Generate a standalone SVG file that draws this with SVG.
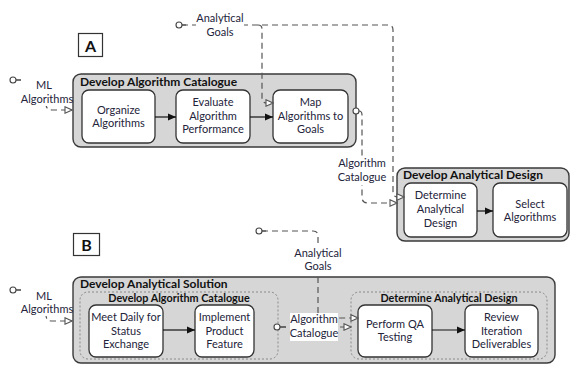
<svg xmlns="http://www.w3.org/2000/svg" width="572" height="365" viewBox="0 0 572 365">
  <style>
    text { font-family: Lato, "Open Sans", "Liberation Sans", sans-serif; font-size: 11px; fill: #23233a; }
    .t { text-anchor: middle; }
    .title { font-weight: bold; fill: #111; font-size: 12px; }
    .sub { font-weight: bold; fill: #111; font-size: 10.8px; text-anchor: middle; }
    .tag { font-weight: bold; fill: #111; font-size: 16px; text-anchor: middle; }
    .group { fill: #d6d6d6; stroke: #3a3a3a; stroke-width: 1.4; }
    .lane { fill: #d6d6d6; stroke: #8a8a8a; stroke-width: 1; stroke-dasharray: 2 2; }
    .task { fill: #fff; stroke: #333; stroke-width: 1.3; }
    .tagbox { fill: #fff; stroke: #333; stroke-width: 1.2; }
    .seq { fill: none; stroke: #111; stroke-width: 1.2; marker-end: url(#solid); }
    .data { fill: none; stroke: #555; stroke-width: 1.2; stroke-dasharray: 6 4; marker-end: url(#open); }
    .start { fill: #fff; stroke: #444; stroke-width: 1.1; }
    .stub { stroke: #444; stroke-width: 1.1; }
    .lbg { fill: #fff; }
  </style>
  <defs>
    <marker id="solid" viewBox="0 0 8 8" refX="8" refY="4" markerWidth="8" markerHeight="8" markerUnits="userSpaceOnUse" orient="auto">
      <path d="M0,0.5 L8,4 L0,7.5 Z" fill="#111"/>
    </marker>
    <marker id="open" viewBox="0 0 9 8" refX="8" refY="4" markerWidth="9" markerHeight="8" markerUnits="userSpaceOnUse" orient="auto">
      <path d="M1,0.8 L8,4 L1,7.2 Z" fill="#fff" stroke="#555" stroke-width="1.1" stroke-dasharray="none"/>
    </marker>
  </defs>

  <!-- Part A -->
  <g id="tag-a">
    <rect class="tagbox" x="78.5" y="33.5" width="24" height="23"/>
    <text class="tag" x="90.5" y="51.5">A</text>
  </g>

  <g id="develop-algorithm-catalogue">
    <rect class="group" x="73" y="74" width="283" height="73" rx="8"/>
    <text class="title" x="80" y="85.5">Develop Algorithm Catalogue</text>
  </g>
  <g id="organize-algorithms">
    <rect class="task" x="82" y="90" width="73" height="53" rx="7"/>
    <text class="t" x="118.5" y="113.5">Organize</text>
    <text class="t" x="118.5" y="127">Algorithms</text>
  </g>
  <g id="evaluate-performance">
    <rect class="task" x="176" y="90" width="74" height="53" rx="7"/>
    <text class="t" x="213" y="106">Evaluate</text>
    <text class="t" x="213" y="119.5">Algorithm</text>
    <text class="t" x="213" y="133">Performance</text>
  </g>
  <g id="map-algorithms">
    <rect class="task" x="273" y="90" width="75" height="53" rx="7"/>
    <text class="t" x="310.5" y="106">Map</text>
    <text class="t" x="310.5" y="119.5">Algorithms to</text>
    <text class="t" x="310.5" y="133">Goals</text>
  </g>

  <g id="develop-analytical-design">
    <rect class="group" x="397" y="168" width="172" height="73" rx="8"/>
    <text class="title" x="403" y="179">Develop Analytical Design</text>
  </g>
  <g id="determine-analytical-design">
    <rect class="task" x="404" y="183" width="73" height="54" rx="7"/>
    <text class="t" x="440.5" y="199">Determine</text>
    <text class="t" x="440.5" y="213">Analytical</text>
    <text class="t" x="440.5" y="227">Design</text>
  </g>
  <g id="select-algorithms">
    <rect class="task" x="493" y="183" width="74" height="54" rx="7"/>
    <text class="t" x="530" y="207.5">Select</text>
    <text class="t" x="530" y="221">Algorithms</text>
  </g>

  <!-- Part B -->
  <g id="tag-b">
    <rect class="tagbox" x="73.5" y="233.5" width="26" height="22"/>
    <text class="tag" x="86.5" y="250.5">B</text>
  </g>

  <g id="develop-analytical-solution">
    <rect class="group" x="73" y="277" width="482" height="86" rx="8"/>
    <text class="title" x="80" y="287.5">Develop Analytical Solution</text>
  </g>
  <g id="lane-algorithm-catalogue">
    <rect class="lane" x="80" y="292" width="198" height="67" rx="8"/>
    <text class="sub" x="179" y="301.5">Develop Algorithm Catalogue</text>
  </g>
  <g id="meet-daily">
    <rect class="task" x="89" y="305" width="74" height="52" rx="7"/>
    <text class="t" x="126" y="321">Meet Daily for</text>
    <text class="t" x="126" y="334.5">Status</text>
    <text class="t" x="126" y="348">Exchange</text>
  </g>
  <g id="implement-feature">
    <rect class="task" x="195" y="305" width="59" height="52" rx="7"/>
    <text class="t" x="224.5" y="321">Implement</text>
    <text class="t" x="224.5" y="334.5">Product</text>
    <text class="t" x="224.5" y="348">Feature</text>
  </g>
  <g id="lane-analytical-design">
    <rect class="lane" x="351" y="292" width="196" height="67" rx="8"/>
    <text class="sub" x="449" y="301.5">Determine Analytical Design</text>
  </g>
  <g id="perform-qa">
    <rect class="task" x="358" y="305" width="74" height="52" rx="7"/>
    <text class="t" x="395" y="327.5">Perform QA</text>
    <text class="t" x="395" y="341">Testing</text>
  </g>
  <g id="review-deliverables">
    <rect class="task" x="465" y="305" width="73" height="52" rx="7"/>
    <text class="t" x="501.5" y="321">Review</text>
    <text class="t" x="501.5" y="334.5">Iteration</text>
    <text class="t" x="501.5" y="348">Deliverables</text>
  </g>

  <!-- Connectors -->
  <g id="connectors">
    <!-- sequence flows -->
    <path class="seq" d="M155,117 H176"/>
    <path class="seq" d="M250,117 H273"/>
    <path class="seq" d="M477,211 H493"/>
    <path class="seq" d="M163,330 H195"/>
    <path class="seq" d="M432,330 H465"/>

    <!-- A: ML algorithms input -->
    <path class="data" d="M16,80 H40 Q46,80 46,86 V104 Q46,110 52,110 H72"/>
    <!-- A: analytical goals -->
    <path class="data" d="M182,25 H388 Q393,25 393,30 V192 Q393,197 398,197 H404"/>
    <path class="data" d="M258,25 Q262,25 262,29 V98 Q262,103 267,103 H273"/>
    <!-- A: algorithm catalogue -->
    <path class="data" d="M359,111 Q362,111 362,115 V197 Q362,203 368,203 H397"/>

    <!-- B: ML algorithms input -->
    <path class="data" d="M16,290 H40 Q46,290 46,296 V315 Q46,321 52,321 H72"/>
    <!-- B: analytical goals -->
    <path class="data" d="M262,231 H313 Q318,231 318,236 V313 Q318,318 323,318 H358"/>
    <!-- B: algorithm catalogue -->
    <path class="data" d="M280,327 H351"/>

    <!-- label backgrounds hide the line runs beneath the names -->
    <rect class="lbg" x="21" y="76" width="51" height="30"/>
    <rect class="lbg" x="196" y="13" width="48" height="25"/>
    <rect class="lbg" x="338" y="158" width="48" height="27"/>
    <rect class="lbg" x="21" y="286" width="51" height="30"/>
    <rect class="lbg" x="294" y="247" width="48" height="26"/>
    <rect class="lbg" x="290" y="313" width="48" height="28"/>

    <!-- start points -->
    <line class="stub" x1="16" y1="80" x2="21" y2="80"/>
    <circle class="start" cx="13" cy="80" r="3"/>
    <line class="stub" x1="182" y1="25" x2="186" y2="25"/>
    <circle class="start" cx="179" cy="25" r="3"/>
    <circle class="start" cx="356" cy="111" r="3"/>
    <line class="stub" x1="16" y1="290" x2="21" y2="290"/>
    <circle class="start" cx="13" cy="290" r="3"/>
    <line class="stub" x1="262" y1="231" x2="266" y2="231"/>
    <circle class="start" cx="259" cy="231" r="3"/>
    <line class="stub" x1="280" y1="327" x2="286" y2="327"/>
    <circle class="start" cx="277" cy="327" r="3"/>

    <!-- labels -->
    <text class="t" x="44" y="89">ML</text>
    <text class="t" x="47" y="103">Algorithms</text>

    <text class="t" x="220" y="22">Analytical</text>
    <text class="t" x="220" y="35.5">Goals</text>

    <text class="t" x="362" y="167">Algorithm</text>
    <text class="t" x="362" y="181">Catalogue</text>

    <text class="t" x="44" y="299.5">ML</text>
    <text class="t" x="47" y="313">Algorithms</text>

    <text class="t" x="318" y="256.5">Analytical</text>
    <text class="t" x="318" y="270">Goals</text>

    <text class="t" x="314" y="322.5">Algorithm</text>
    <text class="t" x="314" y="337">Catalogue</text>
  </g>
</svg>
